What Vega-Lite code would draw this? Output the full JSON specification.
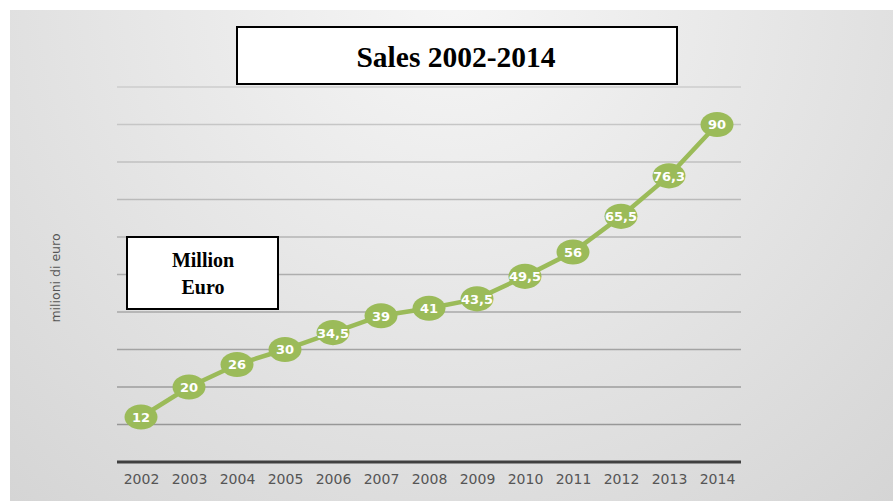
{
  "$schema": "https://vega.github.io/schema/vega-lite/v6.json",
  "width": 883,
  "height": 491,
  "autosize": {"type": "none"},
  "padding": {"left": 10, "top": 10, "right": 0, "bottom": 0},
  "background": "white",
  "config": {
    "view": {
      "stroke": null,
      "fill": {
        "gradient": "radial",
        "x1": 0.5, "y1": 0.2, "r1": 0,
        "x2": 0.5, "y2": 0.2, "r2": 0.95,
        "stops": [
          {"offset": 0, "color": "#f6f6f6"},
          {"offset": 1, "color": "#cdcdcd"}
        ]
      }
    }
  },
  "datasets": {
    "sales": [
      {"x": 2002, "y": 12, "label": "12"},
      {"x": 2003, "y": 20, "label": "20"},
      {"x": 2004, "y": 26, "label": "26"},
      {"x": 2005, "y": 30, "label": "30"},
      {"x": 2006, "y": 34.5, "label": "34,5"},
      {"x": 2007, "y": 39, "label": "39"},
      {"x": 2008, "y": 41, "label": "41"},
      {"x": 2009, "y": 43.5, "label": "43,5"},
      {"x": 2010, "y": 49.5, "label": "49,5"},
      {"x": 2011, "y": 56, "label": "56"},
      {"x": 2012, "y": 65.5, "label": "65,5"},
      {"x": 2013, "y": 76.3, "label": "76,3"},
      {"x": 2014, "y": 90, "label": "90"}
    ],
    "grid": [
      {"g": 10}, {"g": 20}, {"g": 30}, {"g": 40}, {"g": 50},
      {"g": 60}, {"g": 70}, {"g": 80}, {"g": 90}, {"g": 100}
    ]
  },
  "layer": [
    {
      "data": {"name": "sales"},
      "mark": {"type": "line", "color": "#9bbb59", "strokeWidth": 4.5, "opacity": 0},
      "encoding": {
        "x": {
          "field": "x",
          "type": "quantitative",
          "scale": {"domain": [1999.2708, 2017.6667], "nice": false, "zero": false},
          "axis": {
            "orient": "bottom",
            "offset": -39,
            "values": [2002, 2003, 2004, 2005, 2006, 2007, 2008, 2009, 2010, 2011, 2012, 2013, 2014],
            "format": "d",
            "domain": false,
            "ticks": false,
            "grid": false,
            "labelPadding": 10,
            "labelFont": "DejaVu Sans",
            "labelFontSize": 14,
            "labelColor": "#555555",
            "labelFlush": false,
            "title": null
          }
        },
        "y": {
          "field": "y",
          "type": "quantitative",
          "scale": {"domain": [-10.4, 120.533], "nice": false, "zero": false},
          "axis": {
            "domain": false,
            "ticks": false,
            "labels": false,
            "grid": false,
            "title": "milioni di euro",
            "titleX": 45,
            "titleY": 267.5,
            "titleAngle": 270,
            "titleAlign": "center",
            "titleBaseline": "middle",
            "titleFont": "DejaVu Sans",
            "titleFontSize": 12.5,
            "titleFontWeight": "normal",
            "titleColor": "#555555"
          }
        }
      }
    },
    {
      "data": {"name": "grid"},
      "mark": {"type": "rule", "strokeWidth": 1.5},
      "encoding": {
        "x": {"datum": 2001.5, "type": "quantitative"},
        "x2": {"datum": 2014.5},
        "y": {"field": "g", "type": "quantitative", "title": "milioni di euro"},
        "stroke": {
          "field": "g",
          "type": "quantitative",
          "scale": {"domain": [10, 100], "range": ["#979797", "#cccccc"]},
          "legend": null
        }
      }
    },
    {
      "data": {"values": [{}]},
      "mark": {"type": "rule", "stroke": "#404040", "strokeWidth": 3},
      "encoding": {
        "x": {"datum": 2001.5, "type": "quantitative"},
        "x2": {"datum": 2014.5},
        "y": {"datum": 0, "type": "quantitative"}
      }
    },
    {
      "data": {"values": [{}]},
      "mark": {"type": "rect", "fill": "white", "stroke": "black", "strokeWidth": 2},
      "encoding": {
        "x": {"datum": 2004.0, "type": "quantitative"},
        "x2": {"datum": 2013.1667},
        "y": {"datum": 116.0, "type": "quantitative"},
        "y2": {"datum": 100.8}
      }
    },
    {
      "data": {"values": [{"t": "Sales 2002-2014"}]},
      "mark": {"type": "text", "font": "Liberation Serif", "fontWeight": "bold", "fontSize": 29.5, "color": "black", "align": "center", "baseline": "alphabetic"},
      "encoding": {
        "x": {"datum": 2008.5625, "type": "quantitative"},
        "y": {"datum": 105.41, "type": "quantitative"},
        "text": {"field": "t"}
      }
    },
    {
      "data": {"values": [{}]},
      "mark": {"type": "rect", "fill": "white", "stroke": "black", "strokeWidth": 2},
      "encoding": {
        "x": {"datum": 2001.7083, "type": "quantitative"},
        "x2": {"datum": 2004.8542},
        "y": {"datum": 60.0, "type": "quantitative"},
        "y2": {"datum": 40.8}
      }
    },
    {
      "data": {"values": [{"t": "Million\nEuro"}]},
      "mark": {"type": "text", "font": "Liberation Serif", "fontWeight": "bold", "fontSize": 20, "color": "black", "align": "center", "baseline": "alphabetic", "lineBreak": "\n", "lineHeight": 27.5},
      "encoding": {
        "x": {"datum": 2003.2917, "type": "quantitative"},
        "y": {"datum": 52.08, "type": "quantitative"},
        "text": {"field": "t"}
      }
    },
    {
      "data": {"name": "sales"},
      "mark": {"type": "line", "color": "#9bbb59", "strokeWidth": 4.5},
      "encoding": {
        "x": {"field": "x", "type": "quantitative"},
        "y": {"field": "y", "type": "quantitative"}
      }
    },
    {
      "data": {"name": "sales"},
      "mark": {"type": "point", "shape": "M-1,0A1,0.76 0 1,0 1,0A1,0.76 0 1,0 -1,0Z", "size": 1089, "filled": true, "color": "#9bbb59", "opacity": 1},
      "encoding": {
        "x": {"field": "x", "type": "quantitative"},
        "y": {"field": "y", "type": "quantitative"}
      }
    },
    {
      "data": {"name": "sales"},
      "mark": {"type": "text", "font": "DejaVu Sans", "fontWeight": "bold", "fontSize": 13, "color": "white", "align": "center", "baseline": "middle", "dy": 1},
      "encoding": {
        "x": {"field": "x", "type": "quantitative"},
        "y": {"field": "y", "type": "quantitative"},
        "text": {"field": "label"}
      }
    }
  ]
}
